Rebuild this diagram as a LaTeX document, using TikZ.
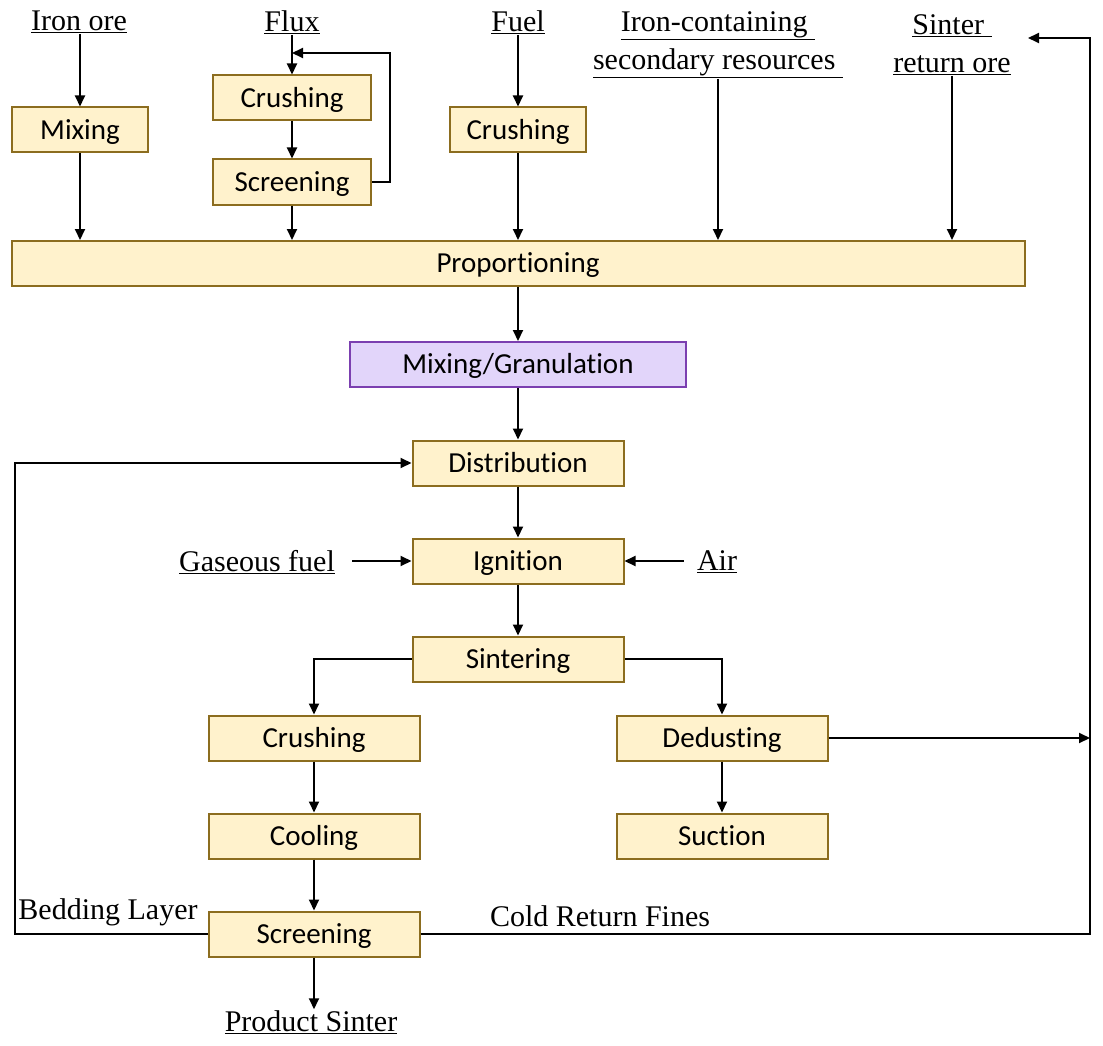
\documentclass[tikz,border=0pt]{standalone}
\usepackage{fontspec}
\setmainfont{Liberation Serif}
\newfontfamily\boxfont{Carlito}[Ligatures=NoCommon]
\usepackage{tikz}
\usetikzlibrary{arrows.meta,positioning}
\definecolor{sinterFill}{HTML}{FFF2CC}
\definecolor{sinterLine}{HTML}{8C6D1F}
\definecolor{granFill}{HTML}{E2D5FA}
\definecolor{granLine}{HTML}{7B3FB0}
\tikzset{
  proc/.style={draw=sinterLine, line width=2pt, fill=sinterFill, font=\boxfont\fontsize{29}{34}\selectfont, text height=21.5pt, text depth=2.8pt, minimum height=45pt, minimum width=#1, inner sep=0pt},
  proc/.default=211pt,
  feed/.style={font=\fontsize{30}{38}\selectfont, align=center, inner sep=1pt},
  arrflow/.style={-{Triangle[length=11pt,width=10pt]}, line width=2pt},
}

\begin{document}
\begin{tikzpicture}[x=1pt, y=-1pt]
\useasboundingbox (0,0) rectangle (1103,1046);
% raw materials
\node[feed] (ironore) at (79,22) {\underline{Iron ore}};
\node[feed] (flux) at (292,22) {\underline{Flux}};
\node[feed] (fuel) at (518,22) {\underline{Fuel}};
\node[feed] (ironsec) at (718,44.5) {\underline{Iron-containing\ }\\\underline{secondary resources\ }};
\node[feed] (sinterret) at (952,44.5) {\underline{Sinter\ }\\\underline{return ore}};
% preparation
\node[proc=136pt] (mix1) at (80,130) {Mixing};
\node[proc=158pt] (crush1) at (292,98) {Crushing};
\node[proc=158pt] (screen1) at (292,182) {Screening};
\node[proc=136pt] (crush3) at (518,130) {Crushing};
\node[proc=1013pt] (prop) at (518,263.5) {Proportioning};
\node[proc=336pt, draw=granLine, fill=granFill] (gran) at (518,364.5) {Mixing/Granulation};
% sintering line
\node[proc] (dist) at (518,463) {Distribution};
\node[proc] (ign) at (518,561) {Ignition};
\node[proc] (sint) at (518,659) {Sintering};
\node[feed] (gasfuel) at (257,562) {\underline{Gaseous fuel}};
\node[feed] (air) at (717,562) {\underline{Air}};
\node[proc] (crush2) at (314,738) {Crushing};
\node[proc] (cool) at (314,836) {Cooling};
\node[proc] (screen2) at (314,934) {Screening};
\node[proc] (dedust) at (722,738) {Dedusting};
\node[proc] (suct) at (722,836) {Suction};
\node[feed] (prodsint) at (311,1022) {\underline{Product Sinter}};
\node[feed] (bedding) at (108,912) {Bedding Layer};
\node[feed] (coldret) at (600,916) {Cold Return Fines};
\coordinate (fluxjoin) at (292,53);
\coordinate (bedL) at (15,934);
\coordinate (retBot) at (1090,934);
\coordinate (retTop) at (1090,38);
\coordinate (retEnd) at (1028,38);

\draw[arrflow] (ironore.south -| mix1) -- (mix1);
\draw[arrflow] (mix1) -- (mix1 |- prop.north);
\draw[arrflow] (flux) -- (crush1);
\draw[arrflow] (crush1) -- (screen1);
\draw[arrflow] (screen1.east) -- ++(18,0) |- (fluxjoin);
\draw[arrflow] (screen1) -- (screen1 |- prop.north);
\draw[arrflow] (fuel) -- (crush3);
\draw[arrflow] (crush3) -- (crush3 |- prop.north);
\draw[arrflow] (ironsec.south) -- (ironsec.south |- prop.north);
\draw[arrflow] (sinterret.south) -- (sinterret.south |- prop.north);
\draw[arrflow] (prop) -- (gran);
\draw[arrflow] (gran) -- (dist);
\draw[arrflow] (dist) -- (ign);
\draw[arrflow] (ign) -- (sint);
\draw[arrflow] ([xshift=16pt]gasfuel.east |- ign.west) -- (ign.west);
\draw[arrflow] ([xshift=-12pt]air.west |- ign.east) -- (ign.east);
\draw[arrflow] (sint.west) -| (crush2.north);
\draw[arrflow] (sint.east) -| (dedust.north);
\draw[arrflow] (crush2) -- (cool);
\draw[arrflow] (cool) -- (screen2);
\draw[arrflow] (dedust) -- (suct);
\draw[arrflow] (dedust.east) -- (dedust.east -| retBot);
\draw[arrflow] (screen2.east) -- (retBot) -- (retTop) -- (retEnd);
\draw[arrflow] (screen2.west) -- (bedL) |- (dist.west);
\draw[arrflow] (screen2.south) -- (screen2.south |- prodsint.north);
\end{tikzpicture}
\end{document}
